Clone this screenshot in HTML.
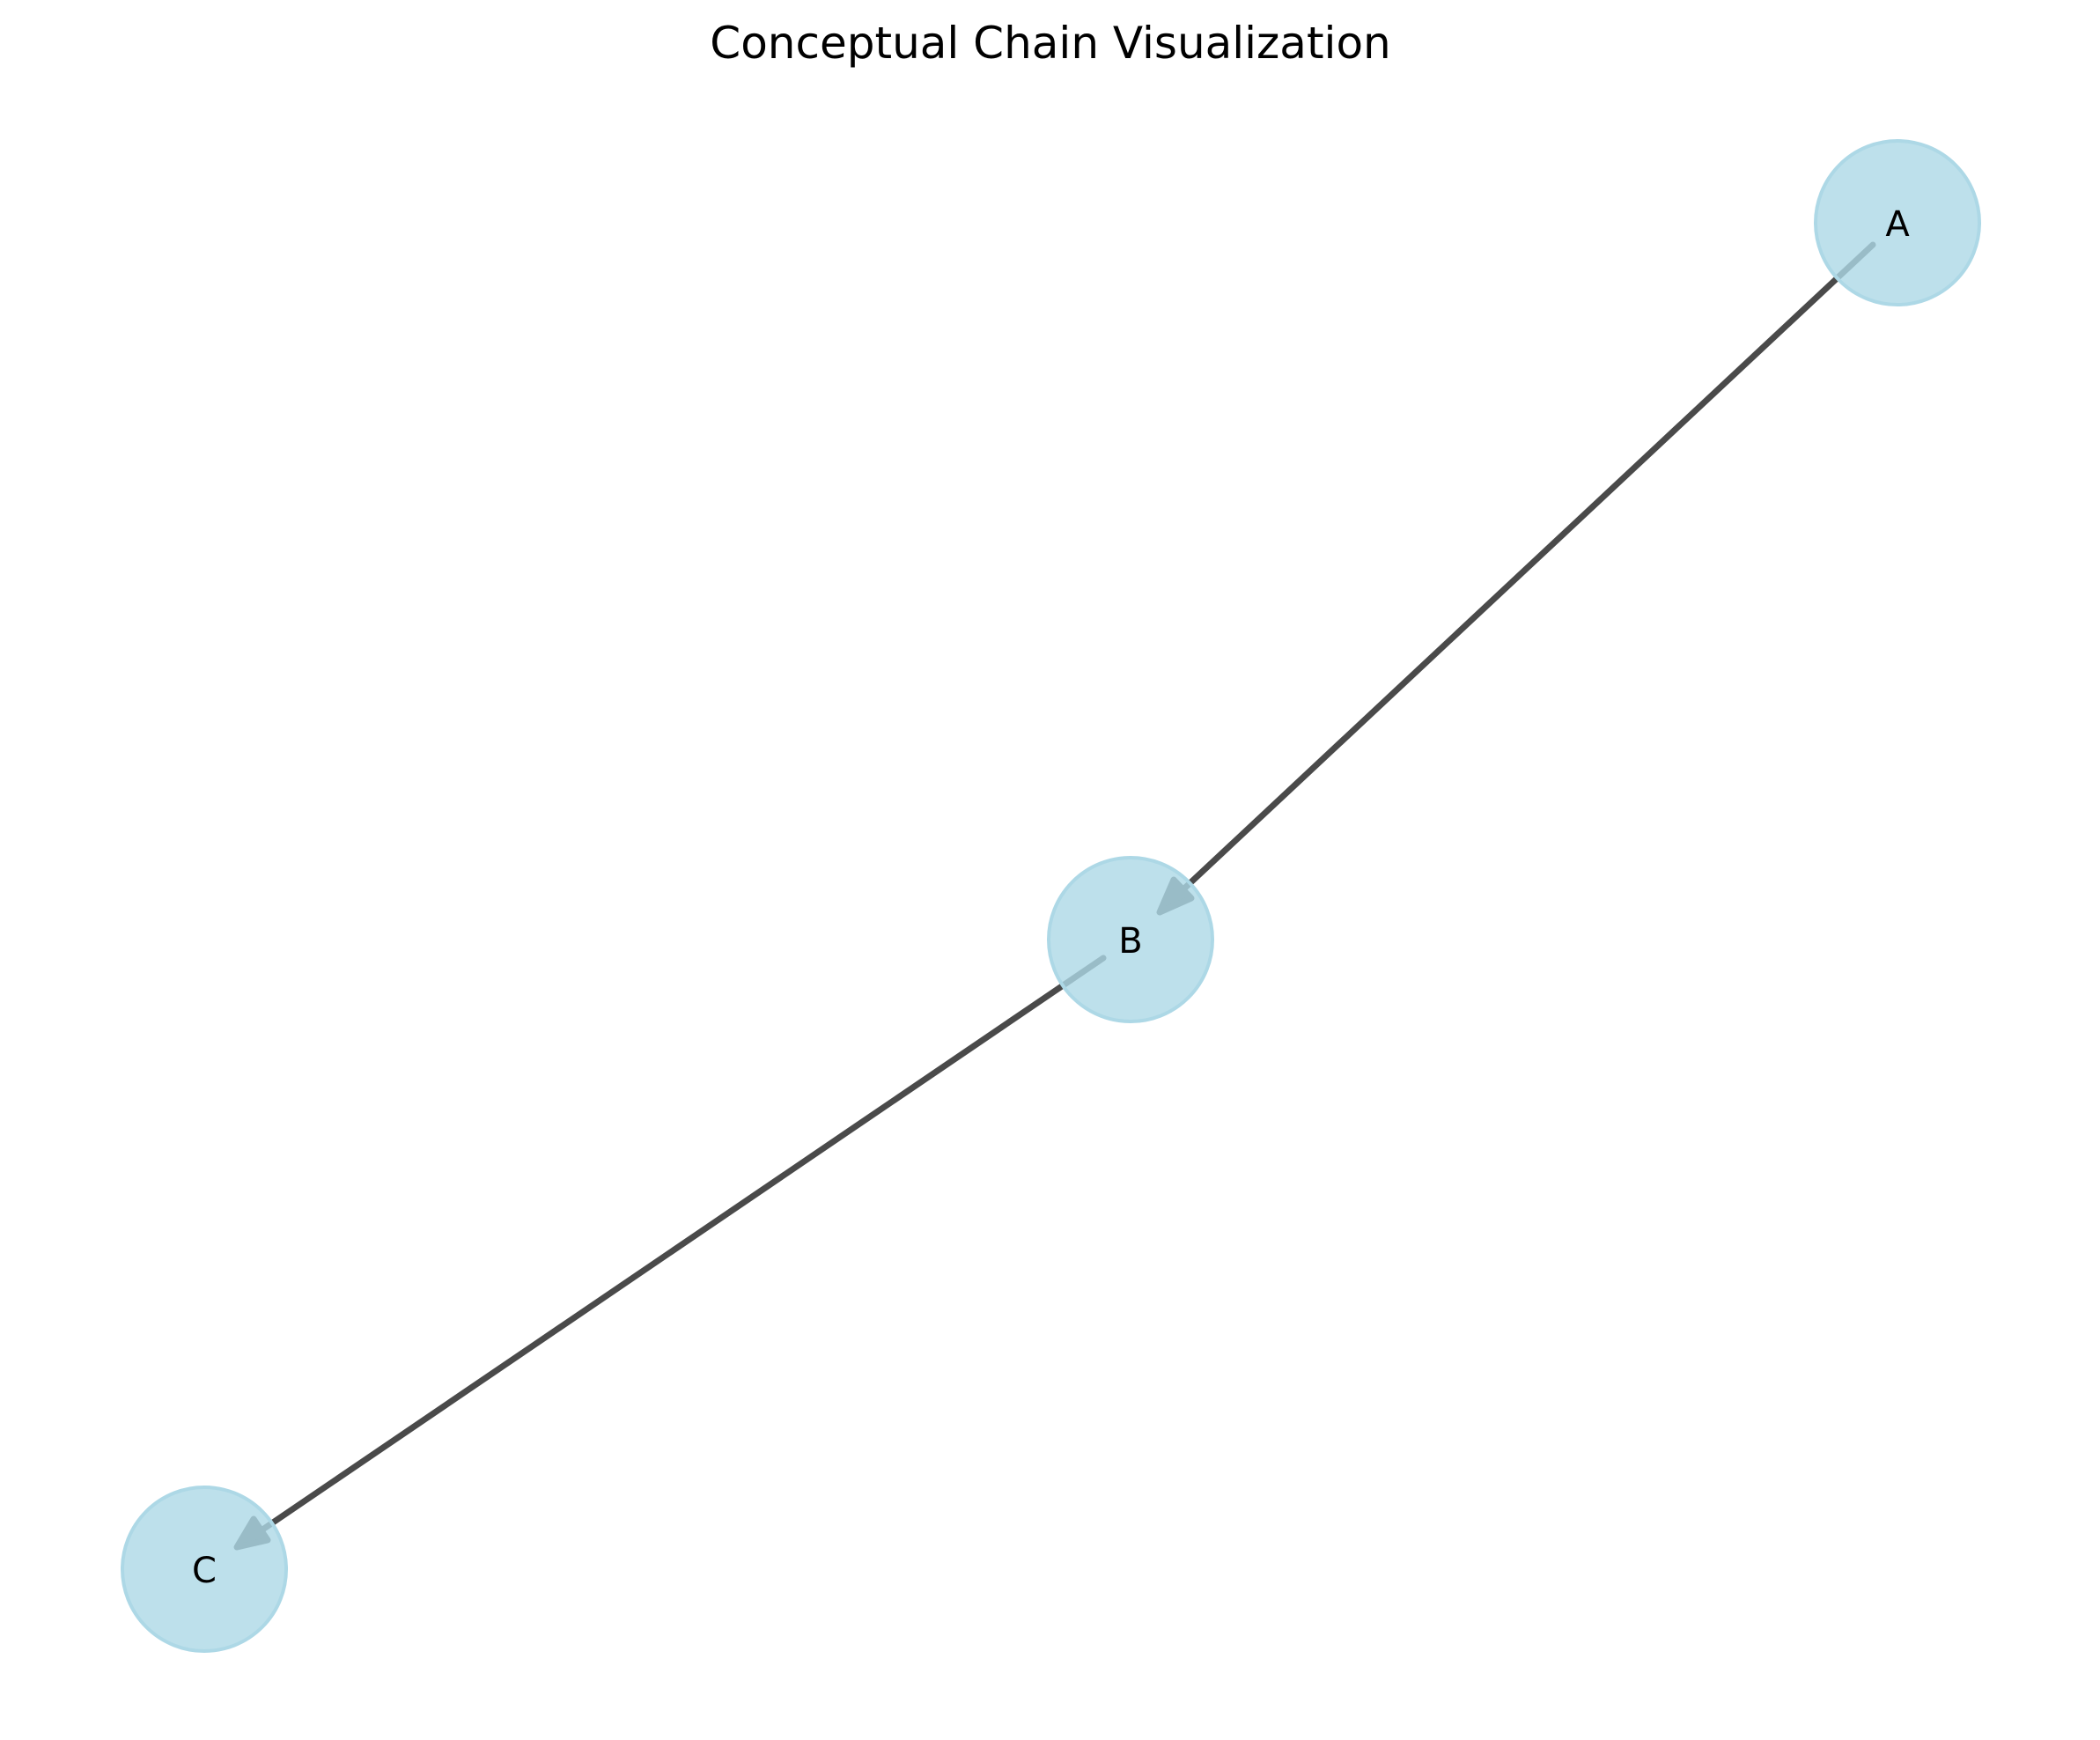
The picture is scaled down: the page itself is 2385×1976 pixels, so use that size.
<!DOCTYPE html>
<html><head><style>html,body{margin:0;padding:0;background:#fff;}</style></head>
<body>
<svg width="2385" height="1971" viewBox="0 0 2385 1971" xmlns="http://www.w3.org/2000/svg">
<rect width="2385" height="1971" fill="#fff"/>
<text x="1193" y="66" font-family="DejaVu Sans, Liberation Sans, sans-serif" font-size="50" text-anchor="middle" fill="#000">Conceptual Chain Visualization</text>
<g stroke="#4a4a4a" stroke-width="7" stroke-linecap="round" fill="#4a4a4a" stroke-linejoin="round">
<line x1="2127" y1="278" x2="1330" y2="1023"/>
<polygon points="1317,1036 1333,999 1353,1020"/>
<line x1="1253" y1="1088" x2="285" y2="1746"/>
<polygon points="269,1757 288,1725 304,1749"/>
</g>
<g fill="rgb(173,216,230)" fill-opacity="0.8" stroke="rgb(173,216,230)" stroke-width="4">
<circle cx="2155" cy="253" r="93"/>
<circle cx="1284" cy="1067" r="93"/>
<circle cx="232" cy="1782" r="93"/>
</g>
<g font-family="DejaVu Sans, Liberation Sans, sans-serif" font-size="40" text-anchor="middle" fill="#000">
<text x="2155" y="268">A</text>
<text x="1284" y="1082">B</text>
<text x="232" y="1797">C</text>
</g>
</svg>
</body></html>
